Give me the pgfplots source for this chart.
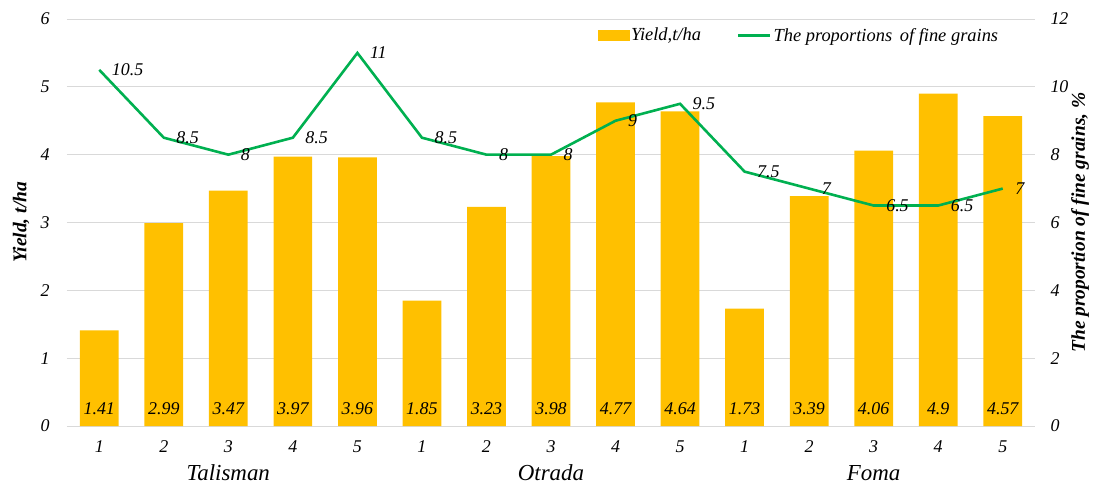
\documentclass[border=0pt]{standalone}
\usepackage{pgfplots}
\pgfplotsset{compat=1.18}
\usepackage{pgfplotstable}
\usepackage{fontspec}
\setmainfont{Liberation Serif}
\definecolor{barc}{HTML}{FFC000}
\definecolor{linec}{HTML}{00B050}
\definecolor{gridc}{HTML}{D9D9D9}

\pgfplotstableread{
x y
0 1.41
1 2.99
2 3.47
3 3.97
4 3.96
5 1.85
6 3.23
7 3.98
8 4.77
9 4.64
10 1.73
11 3.39
12 4.06
13 4.9
14 4.57
}\yielddata

\pgfplotstableread{
x y
0 10.5
1 8.5
2 8
3 8.5
4 11
5 8.5
6 8
7 8
8 9
9 9.5
10 7.5
11 7
12 6.5
13 6.5
14 7
}\finedata

\begin{document}
\begin{tikzpicture}
\begin{axis}[
  at={(0,0)}, anchor=south west,
  scale only axis, width=968bp, height=407bp,
  xmin=-0.5, xmax=14.5, ymin=0, ymax=6,
  xtick={0,...,14},
  xticklabels={1,2,3,4,5,1,2,3,4,5,1,2,3,4,5},
  ytick={0,1,2,3,4,5,6},
  axis y line*=left, axis x line*=bottom,
  y axis line style={draw=none},
  x axis line style={draw=gridc, line width=1bp},
  major tick length=0pt,
  ymajorgrids, grid style={gridc, line width=1bp},
  /pgf/number format/assume math mode=true,
  tick label style={font=\fontsize{18}{20}\selectfont\itshape},
  xticklabel style={yshift=-11bp},
  yticklabel style={xshift=-14bp},
  ylabel={Yield, t/ha},
  ylabel style={at={(axis description cs:-0.0475,0.5)}, anchor=center, rotate=0, font=\fontsize{19.5}{22}\selectfont\bfseries\itshape},
  clip=false,
]
\addplot[ybar, bar width=0.6, bar shift=0pt, fill=barc, draw=none] table[x=x,y=y]{\yielddata};
\addplot[draw=none, mark=none, nodes near coords, point meta=explicit symbolic,
  every node near coord/.append style={anchor=center, font=\fontsize{18}{20}\selectfont\itshape, text=black}]
  table[x=x, y expr=0.25, meta=y]{\yielddata};
\node[font=\fontsize{23}{26}\selectfont\itshape, inner sep=0pt] at (axis cs:2,0) [yshift=-47bp] {Talisman};
\node[font=\fontsize{23}{26}\selectfont\itshape, inner sep=0pt] at (axis cs:7,0) [yshift=-47bp] {Otrada};
\node[font=\fontsize{23}{26}\selectfont\itshape, inner sep=0pt] at (axis cs:12,0) [yshift=-47bp] {Foma};
\end{axis}

\begin{axis}[
  at={(0,0)}, anchor=south west,
  scale only axis, width=968bp, height=407bp,
  xmin=-0.5, xmax=14.5, ymin=0, ymax=12,
  ytick={0,2,4,6,8,10,12},
  axis y line*=right, axis x line=none,
  y axis line style={draw=none},
  major tick length=0pt,
  /pgf/number format/assume math mode=true,
  tick label style={font=\fontsize{18}{20}\selectfont\itshape},
  yticklabel style={xshift=12bp},
  ylabel={The proportion of fine grains, \%},
  ylabel style={at={(axis description cs:1.0465,0.5)}, anchor=center, font=\fontsize{19.5}{22}\selectfont\bfseries\itshape},
  legend style={at={(axis description cs:0.545,0.96)}, anchor=west, draw=none, fill=none,
    font=\fontsize{18.5}{20}\selectfont\itshape, legend columns=2,
    /tikz/every even column/.append style={column sep=34bp},
    nodes={inner sep=2bp}},
  clip=false,
]
\addlegendimage{legend image code/.code={\fill[barc] (0bp,-5bp) rectangle (31bp,5bp);}}
\addlegendentry{Yield,t/ha}
\addplot[linec, line width=2.6bp, mark=none,
  legend image code/.code={\draw[linec, line width=2.6bp] (0bp,0bp) -- (32bp,0bp);},
  nodes near coords, point meta=explicit symbolic,
  every node near coord/.append style={anchor=west, xshift=8bp, font=\fontsize{18}{20}\selectfont\itshape, text=black}]
  table[x=x,y=y,meta=y]{\finedata};
\addlegendentry{The proportions\, of fine grains}
\end{axis}
\pgfresetboundingbox
\path (-67bp,-59bp) rectangle (1027bp,426bp);
\end{tikzpicture}
\end{document}
